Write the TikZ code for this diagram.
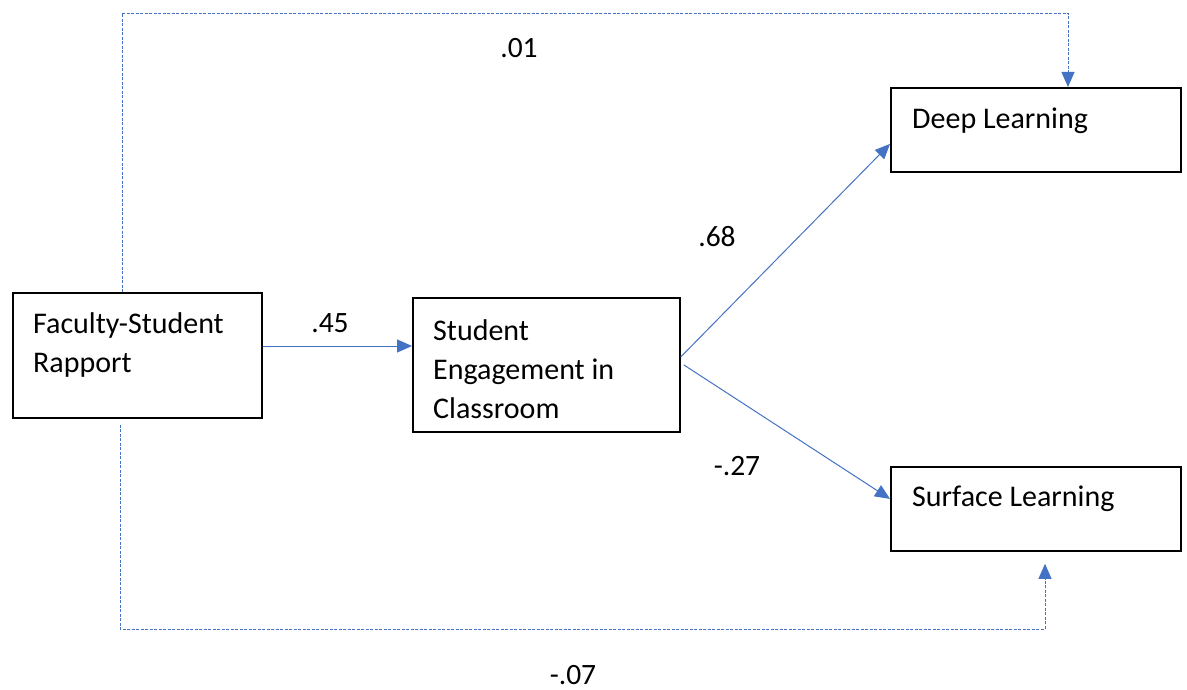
\documentclass[tikz,border=0pt]{standalone}
\usepackage{fontspec}
\setmainfont{Carlito}
\usetikzlibrary{arrows.meta}
\definecolor{lineblue}{HTML}{4472C4}
\begin{document}
\begin{tikzpicture}[x=1pt,y=-1pt,
  box/.style={draw=black, line width=1.8pt, anchor=north west, inner sep=0pt},
  txt/.style={font=\fontsize{30}{39}\selectfont, align=left, inner sep=0pt, anchor=west},
  lbl/.style={font=\fontsize{29.5}{32}\selectfont, inner sep=0pt},
  conn/.style={draw=lineblue, line width=1pt, -{Triangle[length=15pt,width=13pt]}},
  dconn/.style={conn, line width=0.9pt, dash pattern=on 3pt off 1.5pt}]
\useasboundingbox (0,0) rectangle (1187,690);
\fill[white] (0,0) rectangle (1187,690);
% boxes
\node[box, minimum width=249pt, minimum height=125pt] (fsr) at (12,292) {};
\node[box, minimum width=267pt, minimum height=134pt] (seng) at (412,297) {};
\node[box, minimum width=290pt, minimum height=84pt] (deep) at (890,87) {};
\node[box, minimum width=290pt, minimum height=84pt] (surf) at (890,466) {};
% texts
\node[txt] (fsrt) at (33,345) {Faculty-Student\\Rapport};
\node[txt] (sengt) at (433,369) {Student\\Engagement in\\Classroom};
\node[txt] (deept) at (912,121) {Deep Learning};
\node[txt] (surft) at (912,499) {Surface Learning};
% helper coordinates
\coordinate (r45) at (0,346);
\coordinate (tc) at (122,13);
\coordinate (tr) at (1068,13);
\coordinate (bl) at (120,629);
\coordinate (br) at (1045,629);
% connectors
\draw[conn] (fsr.east |- r45) -- (seng.west |- r45);
\draw[conn] ([yshift=8pt]seng.east) -- ([yshift=-14pt]deep.west);
\draw[conn] ([xshift=3pt]seng.east) -- ([yshift=10pt]surf.west);
\draw[dconn] (fsr.north -| tc) -- (tc) -- (tr) -- (deep.north -| tr);
\draw[dconn] ([yshift=-6pt]fsr.south -| bl) -- (bl) -- (br) -- ([yshift=-12pt]surf.south -| br);
% labels
\node[lbl] (l01) at (519,48) {.01};
\node[lbl] (l45) at (330,323) {.45};
\node[lbl] (l68) at (717,237) {.68};
\node[lbl] (l27) at (737,466) {-.27};
\node[lbl] (l07) at (573,675) {-.07};
\end{tikzpicture}
\end{document}
